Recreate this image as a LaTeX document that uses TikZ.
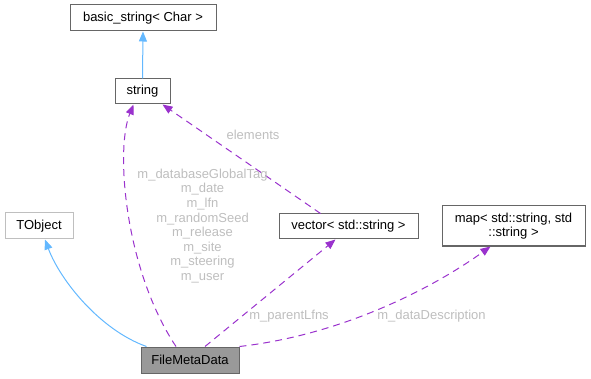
\documentclass[tikz,border=0pt]{standalone}
\usepackage{fontspec}
\setmainfont{Liberation Sans}
\usetikzlibrary{arrows.meta,calc}
\definecolor{edgeblue}{RGB}{99,184,255}
\definecolor{edgepurple}{RGB}{154,50,205}
\definecolor{labelgray}{RGB}{190,190,190}
\definecolor{boxline}{RGB}{102,102,102}
\definecolor{boxlight}{RGB}{191,191,191}
\definecolor{boxfill}{RGB}{153,153,153}

\begin{document}
\begin{tikzpicture}[x=1pt, y=-1pt,
  cls/.style={draw=boxline, line width=1pt, fill=white, font=\fontsize{13}{14.6}\selectfont, inner sep=0pt, minimum height=26pt},
  inherit/.style={edgeblue, line width=1pt, -{Triangle[length=10pt, width=8pt]}},
  member/.style={edgepurple, line width=1pt, dash pattern=on 7pt off 5pt, -{Triangle[length=10pt, width=8pt]}},
  lbl/.style={labelgray, font=\fontsize{13}{14.6}\selectfont, inner sep=0pt, align=center}]
  \useasboundingbox (0,0) rectangle (591,379);

  % Classes
  \node[cls, minimum width=146pt] (bstr) at (143, 18) {basic\_string< Char >};
  \node[cls, minimum width=55pt, minimum height=25pt] (str) at (142.5, 91.5) {string};
  \node[cls, draw=boxlight, minimum width=68pt] (tobj) at (39, 226) {TObject};
  \node[cls, minimum width=139pt, minimum height=25pt] (vec) at (348.5, 226.5) {vector< std::string >};
  \node[cls, minimum width=143pt, minimum height=40pt, align=center] (map) at (513.5, 226) {map< std::string, std\\::string >};
  \node[cls, fill=boxfill, minimum width=98pt] (fmd) at (190, 360) {FileMetaData};

  % Inheritance
  \draw[inherit] (str.north) -- (bstr.south);
  \draw[inherit] ($(fmd.north west)+(6,0)$) .. controls (100, 330) and (60, 280) .. ($(tobj.south)+(6,0)$);

  % Members
  \draw[member] ($(vec.north)+(-28,0)$) -- ($(str.south)+(20,0)$);
  \draw[member] ($(fmd.north)+(-14,0)$) .. controls (125, 270) and (115, 150) .. ($(str.south)+(-9,0)$);
  \draw[member] ($(fmd.north)+(15,0)$) -- ($(vec.south)+(-13,0)$);
  \draw[member] (fmd.north east) .. controls (340, 335) and (430, 290) .. ($(map.south)+(-23,0)$);

  % Edge labels
  \node[lbl] (lelem) at (253, 135) {elements};
  \node[lbl] (lmembers) at (202.5, 226) {m\_databaseGlobalTag\\m\_date\\m\_lfn\\m\_randomSeed\\m\_release\\m\_site\\m\_steering\\m\_user};
  \node[lbl] (lparent) at (289, 316) {m\_parentLfns};
  \node[lbl] (ldesc) at (431.5, 316) {m\_dataDescription};
\end{tikzpicture}
\end{document}
